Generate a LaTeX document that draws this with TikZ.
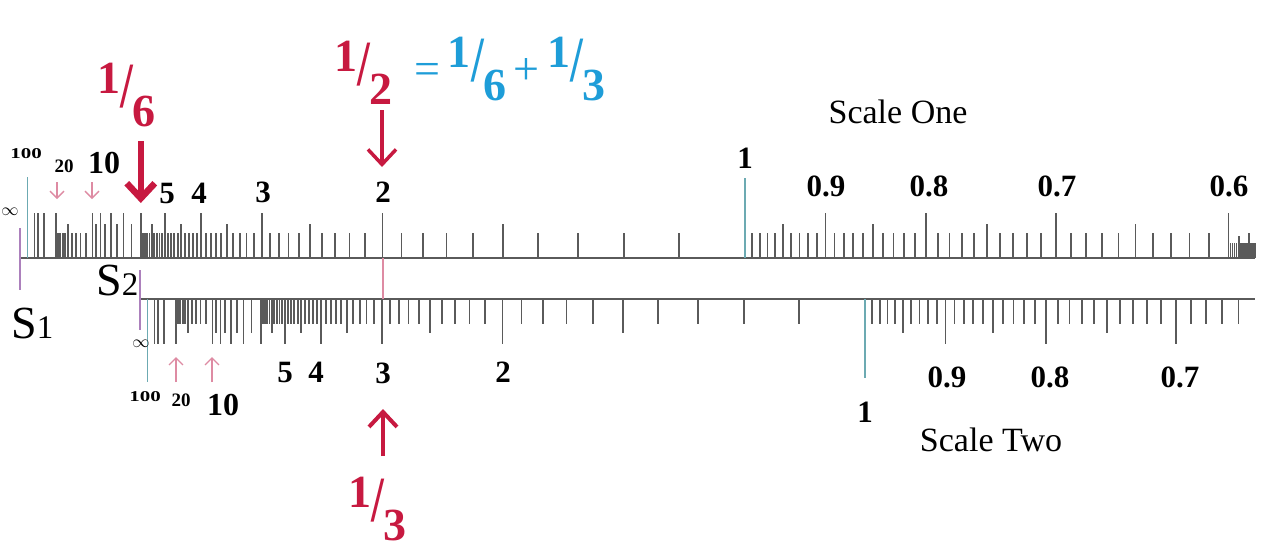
\documentclass[tikz,border=0pt]{standalone}
\usepackage{fontspec}
\setmainfont{Liberation Serif}
\usepackage{graphicx}
\usetikzlibrary{arrows.meta}
\definecolor{RuleTick}{HTML}{5A5A5A}
\definecolor{RuleTeal}{HTML}{6CAAB2}
\definecolor{RulePurple}{HTML}{AC80BC}
\definecolor{RulePink}{HTML}{DE8BA3}
\definecolor{RuleRed}{HTML}{C71940}
\definecolor{RuleBlue}{HTML}{1E9DD8}
\newcommand{\fsz}[1]{\fontsize{#1}{#1}\selectfont}
\newcommand{\slfrac}[2]{\raisebox{.36em}{#1}\kern.01em\raisebox{.06em}{\scalebox{1}[1.4]{/}}\kern-.02em\raisebox{-.36em}{#2}}

\begin{document}
\begin{tikzpicture}[x=1pt,y=-1pt,
    tickline/.style={RuleTick,line width=1.8pt},
    numlab/.style={font={\fsz{31}\bfseries},inner sep=0pt},
    fraclab/.style={font={\fsz{46}\bfseries},inner sep=0pt,anchor=base west},
    scalelab/.style={font={\fsz{34}},inner sep=0pt},
    infsign/.style={font={\fsz{17}},inner sep=0pt,text=black},
    redarrow/.style={RuleRed,line width=#1,-{Straight Barb[length=15pt,width=28pt]}},
    pinkarrow/.style={RulePink,line width=1.3pt,-{Straight Barb[length=7pt,width=14pt]}}]
    \useasboundingbox (0,0) rectangle (1265,557);
    \fill[white] (0,0) rectangle (1265,557);

    % the two rules
    \draw[RuleTick,line width=1.5pt] (20,258) -- (1255,258);
    \draw[RuleTick,line width=1.5pt] (140,299) -- (1255,299);

    % ticks left of 1, same on both scales
    \foreach \yb/\xo/\dr in {258/20/-1,299/140/1}{
      \foreach \k in {11,...,59}{
        \pgfmathsetmacro\h{\dr*(mod(\k,10)==0 ? 45 : (mod(\k,5)==0 ? 34 : 25))}
        \draw[tickline] ({\xo+7250/\k},\yb) -- ++(0,\h);
      }
      \foreach \k in {60,65,...,100}{
        \pgfmathsetmacro\h{\dr*(mod(\k,10)==0 ? 45 : 34)}
        \draw[tickline] ({\xo+7250/\k},\yb) -- ++(0,\h);
      }
      \foreach \k in {11,...,20}{
        \pgfmathsetmacro\h{\dr*(\k==20 ? 45 : (\k==15 ? 34 : 25))}
        \draw[tickline] ({\xo+725/\k},\yb) -- ++(0,\h);
      }
      \foreach \k in {30,40,50}{
        \pgfmathsetmacro\h{\dr*45}
        \draw[tickline] ({\xo+725/\k},\yb) -- ++(0,\h);
      }
    }

    % ticks right of 1
    \foreach \k in {60,...,99}{
      \pgfmathsetmacro\h{mod(\k,10)==0 ? 45 : (mod(\k,5)==0 ? 34 : 25)}
      \draw[tickline] ({20+725/(\k/100)},258) -- ++(0,-\h);
    }
    \foreach \k in {587,...,599}{
      \pgfmathsetmacro\h{\k==590 ? 25 : (\k==595 ? 22 : 15)}
      \draw[tickline] ({20+725/(\k/1000)},258) -- ++(0,-\h);
    }
    \foreach \k in {66,...,99}{
      \pgfmathsetmacro\h{mod(\k,10)==0 ? 45 : (mod(\k,5)==0 ? 34 : 25)}
      \draw[tickline] ({140+725/(\k/100)},299) -- ++(0,\h);
    }

    % 1 and 100 in teal, start marks in purple
    \draw[RuleTeal,line width=1.5pt] (745,258) -- (745,178);
    \draw[RuleTeal,line width=1.5pt] (27.25,258) -- (27.25,177);
    \draw[RuleTeal,line width=1.5pt] (865,299) -- (865,378);
    \draw[RuleTeal,line width=1.5pt] (147.25,299) -- (147.25,382);
    \draw[RulePurple,line width=1.8pt] (20,228) -- (20,290);
    \draw[RulePurple,line width=1.8pt] (140,270) -- (140,330);

    % scale one labels
    \foreach \t/\x/\yy [count=\i] in {5/167/193,4/199/193,3/263/192,2/383/192,1/745/158,0.9/826/186,0.8/929/186,0.7/1057/186,0.6/1229/186}
      \node[numlab] (one\i) at (\x,\yy) {\t};
    \node[numlab,font={\fsz{15}\bfseries}] (onec) at (26,154) {\scalebox{1.4}[1]{100}};
    \node[numlab,font={\fsz{19}\bfseries}] (onexx) at (64,166) {20};
    \node[numlab,font={\fsz{32}\bfseries}] (onex) at (104,163) {10};
    \node[infsign] (infone) at (10,212) {$\infty$};

    % scale two labels
    \foreach \t/\x/\yy [count=\i] in {5/285/372,4/316/372,3/383/373,2/503/372,1/865/412,0.9/947/377,0.8/1050/377,0.7/1180/377}
      \node[numlab] (two\i) at (\x,\yy) {\t};
    \node[numlab,font={\fsz{15}\bfseries}] (twoc) at (145,397) {\scalebox{1.4}[1]{100}};
    \node[numlab,font={\fsz{19}\bfseries}] (twoxx) at (181,400) {20};
    \node[numlab,font={\fsz{32}\bfseries}] (twox) at (223,405) {10};
    \node[infsign] (inftwo) at (141,344) {$\infty$};

    \node[scalelab] (scaleone) at (898,112) {Scale One};
    \node[scalelab] (scaletwo) at (991,440) {Scale Two};
    \node[inner sep=0pt,anchor=base west,font=\fsz{46}] (sone) at (11,338) {S{\fsz{33}1}};
    \node[inner sep=0pt,anchor=base west,font=\fsz{46}] (stwo) at (96,295) {S{\fsz{33}2}};

    % 1/2 on scale one meets 3 on scale two
    \coordinate (half) at (383,258);
    \coordinate (third) at (383,299);
    \draw[RulePink,line width=1.2pt] (half) -- (third);

    % fractions
    \node[fraclab,text=RuleRed] (fsixth) at (97,110) {\slfrac{1}{6}};
    \node[fraclab,text=RuleRed] (fhalf) at (334,88) {\slfrac{1}{2}};
    \node[fraclab,text=RuleBlue] (fsum) at (414,84) {{\mdseries=}\,\slfrac{1}{6}\,{\mdseries+}\,\slfrac{1}{3}};
    \node[fraclab,text=RuleRed] (fthird) at (348,524) {\slfrac{1}{3}};

    % arrows
    \coordinate (sixfrom) at (140.8,141);
    \coordinate (sixto) at (140.8,203);
    \coordinate (halffrom) at (382,110);
    \coordinate (halfto) at (382,167);
    \coordinate (thirdfrom) at (383,456);
    \coordinate (thirdto) at (383,409);
    \draw[redarrow=6.5pt] (sixfrom) -- (sixto);
    \draw[redarrow=3.5pt] (halffrom) -- (halfto);
    \draw[redarrow=4pt] (thirdfrom) -- (thirdto);
    \foreach \x [count=\i] in {57,92}{
      \coordinate (pa\i) at (\x,182);
      \coordinate (pb\i) at (\x,199);
      \draw[pinkarrow] (pa\i) -- (pb\i);
    }
    \foreach \x [count=\i] in {176,212}{
      \coordinate (pc\i) at (\x,382);
      \coordinate (pd\i) at (\x,357);
      \draw[pinkarrow] (pc\i) -- (pd\i);
    }
\end{tikzpicture}
\end{document}
